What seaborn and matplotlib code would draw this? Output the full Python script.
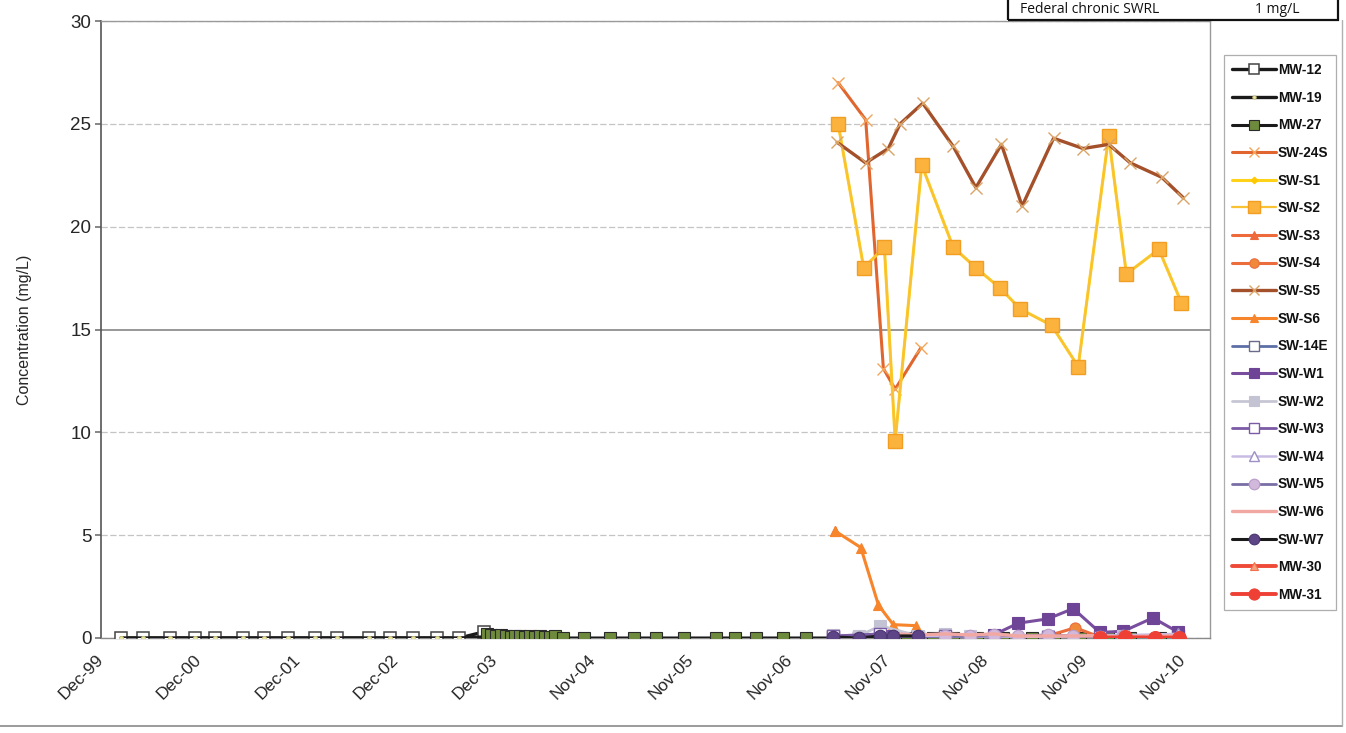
import matplotlib
matplotlib.use("Agg")
import matplotlib.pyplot as plt
import seaborn as sns
import pandas as pd
from matplotlib.lines import Line2D
from matplotlib.patches import Rectangle

# ---------------- data (x = decimal year of sampling, y = mg/L) ----------------
tick_pos = [1999.917, 2000.917, 2001.917, 2002.917, 2003.917, 2004.917,
            2005.917, 2006.917, 2007.917, 2008.917, 2009.917, 2010.917]
tick_labels = ["Dec-99", "Dec-00", "Dec-01", "Dec-02", "Dec-03", "Nov-04",
               "Nov-05", "Nov-06", "Nov-07", "Nov-08", "Nov-09", "Nov-10"]

mw12_t = [2000.12, 2000.34, 2000.62, 2000.87, 2001.08, 2001.36, 2001.57, 2001.82,
          2002.09, 2002.32, 2002.64, 2002.85, 2003.09, 2003.33, 2003.56, 2003.81]
mw12_v = [0, 0, 0, 0, 0, 0, 0, 0, 0, 0, 0, 0, 0, 0, 0, 0.3]

mw19_t = mw12_t
mw19_v = [0, 0, 0, 0, 0, 0, 0, 0, 0, 0, 0, 0, 0, 0, 0, 0.05]

mw27_t = [2003.84, 2003.88, 2003.93, 2003.98, 2004.03, 2004.08, 2004.13, 2004.18,
          2004.23, 2004.28, 2004.33, 2004.38, 2004.43, 2004.48, 2004.53,
          2004.61, 2004.83, 2005.09, 2005.33, 2005.56, 2005.84, 2006.17, 2006.36,
          2006.58, 2006.85, 2007.08, 2007.36, 2007.62, 2007.84, 2008.11, 2008.37,
          2008.58, 2008.82, 2009.09, 2009.38, 2009.60, 2009.87, 2010.15, 2010.38,
          2010.68]
mw27_v = [0.2, 0.15, 0.1, 0.15, 0.1, 0.05, 0.1, 0.1, 0.05, 0.1, 0.05, 0.1, 0.05,
          0.05, 0.1, 0, 0, 0, 0, 0, 0, 0, 0, 0, 0, 0, 0, 0, 0, 0, 0, 0, 0, 0, 0,
          0, 0, 0, 0, 0]

sw24s_t = [2007.41, 2007.69, 2007.87, 2007.99, 2008.25]
sw24s_v = [27.0, 25.2, 13.1, 12.1, 14.1]

s2_t = [2007.41, 2007.67, 2007.88, 2007.99, 2008.26, 2008.58, 2008.81, 2009.06,
        2009.26, 2009.58, 2009.85, 2010.16, 2010.34, 2010.67, 2010.90]
s2_v = [25.0, 18.0, 19.0, 9.6, 23.0, 19.0, 18.0, 17.0, 16.0, 15.2, 13.2, 24.4,
        17.7, 18.9, 16.3]
s1_t = s2_t
s1_v = s2_v

s3_t = [2007.38]
s3_v = [5.2]

s4_t = [2009.24, 2009.54, 2009.82, 2010.07]
s4_v = [0.05, 0.1, 0.5, 0.05]

s5_t = [2007.40, 2007.69, 2007.92, 2008.04, 2008.27, 2008.58, 2008.81, 2009.07,
        2009.28, 2009.60, 2009.90, 2010.16, 2010.38, 2010.70, 2010.92]
s5_v = [24.1, 23.1, 23.8, 25.0, 26.0, 23.9, 21.9, 24.0, 21.0, 24.3, 23.8, 24.0,
        23.1, 22.4, 21.4]

s6_t = [2007.38, 2007.64, 2007.82, 2007.97, 2008.20]
s6_v = [5.2, 4.4, 1.6, 0.65, 0.6]

sw14e_t = [2007.36, 2007.62, 2007.84, 2008.22, 2010.86]
sw14e_v = [0.1, 0.05, 0.1, 0.05, 0.1]

w1_t = [2007.36, 2007.62, 2007.97, 2008.50, 2008.99, 2009.24, 2009.54, 2009.80,
        2010.07, 2010.31, 2010.61, 2010.86]
w1_v = [0.1, 0.05, 0.1, 0.1, 0.15, 0.72, 0.93, 1.43, 0.27, 0.33, 0.98, 0.3]

w2_t = [2007.36, 2007.62, 2007.84, 2008.22, 2008.50, 2008.75, 2009.54, 2010.31]
w2_v = [0.15, 0.1, 0.6, 0.1, 0.2, 0.1, 0.1, 0.1]

w3_t = [2007.36, 2007.84, 2008.50, 2008.99, 2009.54, 2010.07]
w3_v = [0.1, 0.2, 0.1, 0.05, 0.05, 0.05]

w4_t = [2007.84, 2008.50, 2009.54, 2010.86]
w4_v = [0.1, 0.1, 0.05, 0.2]

w5_t = [2008.50, 2008.75, 2008.99, 2009.24, 2009.54, 2009.80, 2010.07, 2010.31]
w5_v = [0.1, 0.1, 0.15, 0.1, 0.15, 0.1, 0.05, 0.1]

w6_t = [2007.97, 2008.22, 2008.50, 2008.75, 2008.99, 2009.24, 2009.54, 2009.80,
        2010.07, 2010.31, 2010.61, 2010.86]
w6_v = [0.2, 0.15, 0.2, 0.15, 0.2, 0.1, 0.1, 0.1, 0.1, 0.05, 0.1, 0.1]

w7_t = [2007.36, 2007.62, 2007.84, 2007.97, 2008.22]
w7_v = [0.05, 0.0, 0.1, 0.1, 0.1]

mw30_t = [2010.07, 2010.33, 2010.63, 2010.87]
mw30_v = [0.0, 0.0, 0.0, 0.0]
mw31_t = mw30_t
mw31_v = [0.02, 0.03, 0.02, 0.02]

# name, t, v, style
series = [
    ("MW-12", mw12_t, mw12_v, dict(color="#1a1a1a", lw=2.4, marker="s", ms=8, mfc="white", mec="#444444", mew=1.1)),
    ("MW-19", mw19_t, mw19_v, dict(color="#1a1a1a", lw=2.4, marker="o", ms=3, mfc="#E9E6A2", mec="#C9C27A", mew=0.6)),
    ("MW-27", mw27_t, mw27_v, dict(color="#1a1a1a", lw=2.2, marker="s", ms=8, mfc="#6E8B3D", mec="#2a2a2a", mew=0.8)),
    ("SW-24S", sw24s_t, sw24s_v, dict(color="#E0652E", lw=2.2, marker="x", ms=8, mfc="#F3A45A", mec="#F3A45A", mew=1.0)),
    ("SW-S1", s1_t, s1_v, dict(color="#FFD21A", lw=2.2, marker="D", ms=4, mfc="#FFC800", mec="#FFC800", mew=0.8)),
    ("SW-S2", s2_t, s2_v, dict(color="#F9C235", lw=1.6, marker="s", ms=10, mfc="#FBB33E", mec="#F29E22", mew=1.0)),
    ("SW-S3", s3_t, s3_v, dict(color="#EE6A3B", lw=2.2, marker="^", ms=7, mfc="#EE6A3B", mec="#EE6A3B", mew=0.8)),
    ("SW-S4", s4_t, s4_v, dict(color="#EB6D3E", lw=2.2, marker="o", ms=8, mfc="#F08A3A", mec="#EB6D3E", mew=0.8)),
    ("SW-S5", s5_t, s5_v, dict(color="#A4502A", lw=2.4, marker="x", ms=8, mfc="#D9A466", mec="#D9A466", mew=1.0)),
    ("SW-S6", s6_t, s6_v, dict(color="#F6852C", lw=2.2, marker="^", ms=7, mfc="#F6852C", mec="#F6852C", mew=0.8)),
    ("SW-14E", sw14e_t, sw14e_v, dict(color="#5C6FA6", lw=2.0, marker="s", ms=8, mfc="white", mec="#6A6A8A", mew=1.0)),
    ("SW-W1", w1_t, w1_v, dict(color="#7A4E9E", lw=2.2, marker="s", ms=9, mfc="#6E4596", mec="#6E4596", mew=0.8)),
    ("SW-W2", w2_t, w2_v, dict(color="#C6C6D4", lw=2.0, marker="s", ms=8, mfc="#C3C3D3", mec="#C3C3D3", mew=0.8)),
    ("SW-W3", w3_t, w3_v, dict(color="#7B5BA6", lw=2.0, marker="s", ms=8, mfc="white", mec="#7B5BA6", mew=1.0)),
    ("SW-W4", w4_t, w4_v, dict(color="#C9BCE2", lw=1.8, marker="^", ms=8, mfc="white", mec="#9E8FC6", mew=1.0)),
    ("SW-W5", w5_t, w5_v, dict(color="#7A6EA6", lw=2.0, marker="o", ms=9, mfc="#D2B8DA", mec="#B79CC8", mew=0.8)),
    ("SW-W6", w6_t, w6_v, dict(color="#F2A8A2", lw=2.4, marker="_", ms=7, mfc="#F2A8A2", mec="#F2A8A2", mew=1.0)),
    ("SW-W7", w7_t, w7_v, dict(color="#1a1a1a", lw=2.2, marker="o", ms=9, mfc="#5E4587", mec="#4A3570", mew=0.8)),
    ("MW-30", mw30_t, mw30_v, dict(color="#EF4A38", lw=2.8, marker="^", ms=6, mfc="#F5A07A", mec="#F07050", mew=0.8)),
    ("MW-31", mw31_t, mw31_v, dict(color="#EF4035", lw=2.8, marker="o", ms=10, mfc="#EF4035", mec="#EF4035", mew=0.8)),
]

# ---------------- figure ----------------
sns.set_theme(style="white")
plt.rcParams["font.family"] = ["Liberation Sans", "DejaVu Sans"]

W, H = 1346, 733
fig = plt.figure(figsize=(W / 100, H / 100), dpi=100)
fig.patch.set_facecolor("white")
L, R, T, B = 101, 1210, 21, 638
ax = fig.add_axes([L / W, 1 - B / H, (R - L) / W, (B - T) / H])

handles = {}
for name, t, v, st in series:
    df = pd.DataFrame({"t": t, "v": v})
    sns.lineplot(data=df, x="t", y="v", ax=ax, color=st["color"], linewidth=st["lw"],
                 marker=st["marker"], markersize=st["ms"], markerfacecolor=st["mfc"],
                 markeredgecolor=st["mec"], markeredgewidth=st["mew"],
                 estimator=None, sort=False, legend=False, zorder=3)
    handles[name] = Line2D([], [], color=st["color"], lw=st["lw"], marker=st["marker"],
                           markersize=min(st["ms"] * 0.85, 8), markerfacecolor=st["mfc"],
                           markeredgecolor=st["mec"], markeredgewidth=st["mew"])

ax.set_xlim(1999.917, 2011.19)
ax.set_ylim(0, 30)
ax.set_yticks([0, 5, 10, 15, 20, 25, 30])
ax.set_xticks(tick_pos)
ax.set_xticklabels(tick_labels, rotation=45, ha="right", va="center",
                   rotation_mode="anchor", fontsize=12.5)
ax.tick_params(axis="x", pad=14, length=0)
ax.tick_params(axis="y", labelsize=13.5, pad=3, length=4, direction="out", left=True, color="#777777")
ax.set_xlabel("")
ax.set_ylabel("Concentration (mg/L)", fontsize=11.5)
ax.yaxis.set_label_coords(-0.062, 0.50)

ax.grid(axis="y", color="#C4C4C4", linestyle=(0, (5, 2)), linewidth=0.9, zorder=0)
ax.grid(axis="x", visible=False)
gl = ax.get_ygridlines()
if len(gl) > 3:
    gl[3].set_color("#7A7A7A")
    gl[3].set_linestyle("-")
    gl[3].set_linewidth(1.1)
ax.set_axisbelow(True)
for s in ["top", "right"]:
    ax.spines[s].set_color("#9A9A9A")
    ax.spines[s].set_linewidth(1.0)
ax.spines["left"].set_color("#555555")
ax.spines["left"].set_linewidth(1.2)
ax.spines["bottom"].set_color("#8A8A8A")
ax.spines["bottom"].set_linewidth(1.0)

# legend
names = [s[0] for s in series]
leg = fig.legend([handles[n] for n in names], names, loc="upper left",
                 bbox_to_anchor=(1224 / W, 1 - 55 / H), frameon=True, fancybox=False,
                 edgecolor="#9A9A9A", fontsize=9.8, handlelength=3.2, handletextpad=0.15,
                 labelspacing=1.0, borderpad=0.6, borderaxespad=0)
leg.get_frame().set_linewidth(0.9)
for txt in leg.get_texts():
    txt.set_fontweight("bold")
    txt.set_color("#111111")

# criteria box at top right
fig.patches.append(Rectangle((1008 / W, 1 - 20 / H), (1338 - 1008) / W, 40 / H,
                             transform=fig.transFigure, fill=False, edgecolor="#111111",
                             linewidth=1.6))
fig.text(1020 / W, 1 - 13 / H, "Federal chronic SWRL", fontsize=10, ha="left",
         va="baseline", family=["Open Sans", "DejaVu Sans"], color="#111111")
fig.text(1255 / W, 1 - 13 / H, "1 mg/L", fontsize=10, ha="left",
         va="baseline", family=["Open Sans", "DejaVu Sans"], color="#111111")

# outer chart-area border lines
fig.lines.append(Line2D([0, 1342 / W], [1 - 726 / H, 1 - 726 / H], transform=fig.transFigure,
                        color="#8A8A8A", linewidth=1.2))
fig.lines.append(Line2D([1342 / W, 1342 / W], [1 - 726 / H, 1 - 20 / H], transform=fig.transFigure,
                        color="#B0B0B0", linewidth=1.0))

fig.savefig("out.png", dpi=100, facecolor="white")
